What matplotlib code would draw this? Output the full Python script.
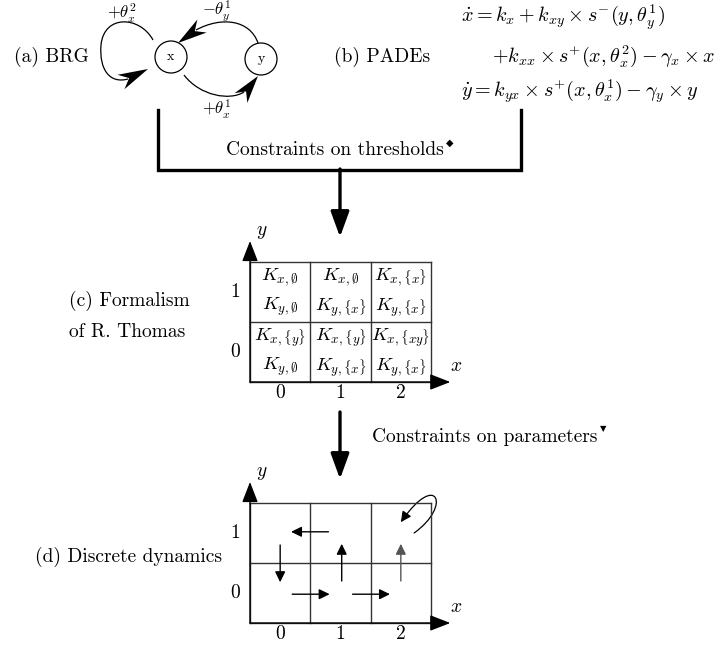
import matplotlib
matplotlib.use("Agg")
import numpy as np
import matplotlib.pyplot as plt
from matplotlib.patches import Circle, FancyArrowPatch, PathPatch, Polygon
from matplotlib.path import Path

plt.rcParams["font.family"] = "cmr10"
plt.rcParams["mathtext.fontset"] = "cm"
plt.rcParams["axes.unicode_minus"] = False

W, H = 723, 645

# --- data -------------------------------------------------------------
panel_labels = ["(a) BRG", "(b) PADEs", "(c) Formalism\nof R. Thomas", "(d) Discrete dynamics"]
brg_nodes = ["x", "y"]
brg_edges = [r"$+\theta_x^2$", r"$-\theta_y^1$", r"$+\theta_x^1$"]
pade_lines = [
    r"$\dot{x} = k_x + k_{xy} \times s^{-}(y, \theta_y^1)$",
    r"$+k_{xx} \times s^{+}(x, \theta_x^2) - \gamma_x \times x$",
    r"$\dot{y} = k_{yx} \times s^{+}(x, \theta_x^1) - \gamma_y \times y$",
]
constraint_labels = ["Constraints on thresholds", "Constraints on parameters"]
constraint_marks = ["\u25c6", "\u25bc"]
x_levels = ["0", "1", "2"]
y_levels = ["0", "1"]
# K parameters per cell, rows: y level 1 then 0
k_x = [[r"$K_{x,\emptyset}$", r"$K_{x,\emptyset}$", r"$K_{x,\{x\}}$"],
       [r"$K_{x,\{y\}}$", r"$K_{x,\{y\}}$", r"$K_{x,\{xy\}}$"]]
k_y = [[r"$K_{y,\emptyset}$", r"$K_{y,\{x\}}$", r"$K_{y,\{x\}}$"],
       [r"$K_{y,\emptyset}$", r"$K_{y,\{x\}}$", r"$K_{y,\{x\}}$"]]
# transitions of the state graph, (from cell) -> (to cell), cell = (x, y)
transitions = [((1, 1), (0, 1)), ((0, 1), (0, 0)), ((0, 0), (1, 0)),
               ((1, 0), (2, 0)), ((1, 0), (1, 1)), ((2, 0), (2, 1))]
steady = [(2, 1)]

fig = plt.figure(figsize=(W / 100, H / 100), dpi=100)
ax = fig.add_axes([0, 0, 1, 1])
ax.set_xlim(0, W)
ax.set_ylim(H, 0)
ax.axis("off")

FS = 14


def stealth(tip, base, width=16):
    # latex-like stealth arrow head, tip and base in pixel coords
    tip, base = np.array(tip, float), np.array(base, float)
    u = tip - base
    L = np.hypot(*u)
    u /= L
    n = np.array([-u[1], u[0]])
    pts = [tip, tip - L * u + n * width / 2, tip - 0.7 * L * u, tip - L * u - n * width / 2]
    ax.add_patch(Polygon(pts, closed=True, color="black", lw=0))


def bezier(pts, lw=0.9):
    codes = [Path.MOVETO] + [Path.CURVE4] * (len(pts) - 1)
    ax.add_patch(PathPatch(Path(pts, codes), fill=False, lw=lw, color="black"))


# --- (a) BRG ----------------------------------------------------------
ax.text(14, 57, panel_labels[0], fontsize=FS, va="center")
node_xy = {"x": (171, 57), "y": (261, 59)}
for n in brg_nodes:
    ax.add_patch(Circle(node_xy[n], 16, fill=False, lw=0.9, color="black"))
    ax.text(*node_xy[n], n, fontsize=10, ha="center", va="center")

# self loop on x
bezier([(153, 40), (140, 16), (104, 14), (101, 45), (99, 70), (110, 84), (128, 79)])
stealth((148, 69), (121, 82))
# y -> x
bezier([(258, 43), (250, 20), (222, 16), (196, 30)])
stealth((178, 43), (202, 26))
# x -> y
bezier([(184, 75), (200, 96), (230, 101), (244, 92)])
stealth((258, 76), (241, 98))

ax.text(122, 13, brg_edges[0], fontsize=12, ha="center", va="center")
ax.text(217, 11, brg_edges[1], fontsize=12, ha="center", va="center")
ax.text(217, 109, brg_edges[2], fontsize=12, ha="center", va="center")

# --- (b) PADEs --------------------------------------------------------
ax.text(334, 57, panel_labels[1], fontsize=FS, va="center")
ax.text(461, 17, pade_lines[0], fontsize=14.5, va="center")
ax.text(492, 56, pade_lines[1], fontsize=14.5, va="center")
ax.text(461, 92, pade_lines[2], fontsize=14.5, va="center")

# --- bracket and first arrow -----------------------------------------
ax.plot([158, 158, 521, 521], [110, 170, 170, 110], color="black", lw=2.4,
        solid_joinstyle="miter")
big = dict(arrowstyle="-|>,head_length=1.1,head_width=0.4", lw=2.4, color="black",
           mutation_scale=14, shrinkA=0, shrinkB=0)
ax.annotate("", xy=(340, 237), xytext=(340, 169), arrowprops=big)
ax.text(335, 150, constraint_labels[0], fontsize=FS, ha="center", va="center")
ax.text(450, 143, constraint_marks[0], fontsize=7, ha="center", va="center",
        family="DejaVu Sans")

# --- second arrow -----------------------------------------------------
ax.annotate("", xy=(340, 479), xytext=(340, 412), arrowprops=big)
ax.text(372, 437, constraint_labels[1], fontsize=FS, va="center")
ax.text(603, 429, constraint_marks[1], fontsize=6, ha="center", va="center",
        family="DejaVu Sans")


# --- grids ------------------------------------------------------------
def grid_axes(top):
    left, right, bottom = 250, 431, top + 120
    g = fig.add_axes([left / W, (H - bottom) / H, (right - left) / W, 120 / H])
    g.set_xlim(0, 3)
    g.set_ylim(0, 2)
    g.axis("off")
    for i in range(len(x_levels) + 1):
        g.plot([i, i], [0, 2], color="#333333", lw=1.0, clip_on=False)
    for j in range(len(y_levels) + 1):
        g.plot([0, 3], [j, j], color="#333333", lw=1.0, clip_on=False)
    ak = dict(arrowstyle="-|>,head_length=0.9,head_width=0.35", lw=1.0,
              color="black", mutation_scale=14, shrinkA=0, shrinkB=0)
    g.annotate("", xy=(3.32, 0), xytext=(0, 0), arrowprops=ak, annotation_clip=False)
    g.annotate("", xy=(0, 2.35), xytext=(0, 0), arrowprops=ak, annotation_clip=False)
    g.text(0.2, 2.5, "$y$", fontsize=FS, ha="center", va="center")
    g.text(3.42, 0.27, "$x$", fontsize=FS, ha="center", va="center")
    for i, lab in enumerate(x_levels):
        g.text(i + 0.5, -0.18, lab, fontsize=FS, ha="center", va="center")
    for j, lab in enumerate(y_levels):
        g.text(-0.24, j + 0.5, lab, fontsize=FS, ha="center", va="center")
    return g


gc = grid_axes(262)
ax.text(69, 301, panel_labels[2].split("\n")[0], fontsize=FS, va="center")
ax.text(69, 332, panel_labels[2].split("\n")[1], fontsize=FS, va="center")
for r in range(2):
    yl = 1 - r
    for c in range(3):
        gc.text(c + 0.5, yl + 0.75, k_x[r][c], fontsize=13.5, ha="center", va="center")
        gc.text(c + 0.5, yl + 0.25, k_y[r][c], fontsize=13.5, ha="center", va="center")

gd = grid_axes(503)
ax.text(35, 557, panel_labels[3], fontsize=FS, va="center")
small = "-|>,head_length=0.45,head_width=0.22"
for (x0, y0), (x1, y1) in transitions:
    dx, dy = x1 - x0, y1 - y0
    sx, sy = x0 + 0.5 + 0.2 * dx, y0 + 0.5 + 0.2 * dy
    ex, ey = x1 + 0.5 - 0.18 * dx, y1 + 0.5 - 0.18 * dy
    if dx:
        sy = ey = y0 + 0.5 - 0.02 * (1 if y0 == 0 else -1)
    else:
        sx = ex = x0 + 0.5 + (0.02 if x0 == 1 else 0)
    col = "#555555" if (x0, y0) == (2, 0) else "black"
    gd.annotate("", xy=(ex, ey), xytext=(sx, sy),
                arrowprops=dict(arrowstyle=small, lw=1.0, color=col, mutation_scale=14,
                                shrinkA=0, shrinkB=0))
for (cx, cy) in steady:
    p = Path([(cx + 0.72, cy + 0.5), (cx + 1.35, cy + 0.95), (cx + 1.1, cy + 1.55),
              (cx + 0.5, cy + 0.68)],
             [Path.MOVETO, Path.CURVE4, Path.CURVE4, Path.CURVE4])
    gd.add_patch(FancyArrowPatch(path=p, arrowstyle=small, lw=0.9, color="black",
                                 mutation_scale=14, shrinkA=0, shrinkB=0, clip_on=False))

fig.savefig("out.png", dpi=100)
